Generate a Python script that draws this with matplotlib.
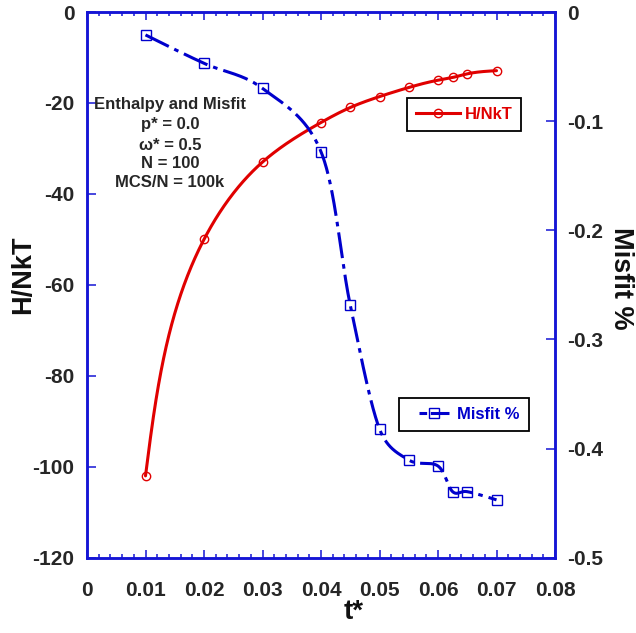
import numpy as np
import matplotlib
matplotlib.use("Agg")
import matplotlib.pyplot as plt
from matplotlib.lines import Line2D
from matplotlib.ticker import MultipleLocator, FixedLocator

# ---- data ----
t_star = [0.01, 0.02, 0.03, 0.04, 0.045, 0.05, 0.055, 0.06, 0.0625, 0.065, 0.07]
enthalpy = [-102.0, -50.0, -33.0, -24.3, -21.0, -18.6, -16.6, -15.0, -14.4, -13.6, -12.9]
misfit = [-0.021, -0.047, -0.070, -0.128, -0.2685, -0.382, -0.4105, -0.416, -0.4395, -0.4395, -0.447]

left_ticks = [0, -20, -40, -60, -80, -100, -120]
right_ticks = [0, -0.1, -0.2, -0.3, -0.4, -0.5]
x_ticks = [0, 0.01, 0.02, 0.03, 0.04, 0.05, 0.06, 0.07, 0.08]
x_tick_labels = ["0", "0.01", "0.02", "0.03", "0.04", "0.05", "0.06", "0.07", "0.08"]
info_lines = ["Enthalpy and Misfit", "p* = 0.0", "\u03c9* = 0.5", "N = 100", "MCS/N = 100k"]

RED = "#E00000"
BLUE = "#0000CC"
AXIS_BLUE = "#1515D5"
TXT = "#262626"

plt.rcParams["font.family"] = ["Liberation Sans", "DejaVu Sans"]
plt.rcParams["font.weight"] = "bold"
plt.rcParams["axes.labelweight"] = "bold"


def _natural_1d(t, y, tt):
    n = len(t)
    h = np.diff(t)
    A = np.zeros((n, n))
    b = np.zeros(n)
    A[0, 0] = A[-1, -1] = 1.0
    for i in range(1, n - 1):
        A[i, i - 1] = h[i - 1]
        A[i, i] = 2 * (h[i - 1] + h[i])
        A[i, i + 1] = h[i]
        b[i] = 6 * ((y[i + 1] - y[i]) / h[i] - (y[i] - y[i - 1]) / h[i - 1])
    M = np.linalg.solve(A, b)
    idx = np.clip(np.searchsorted(t, tt, side="right") - 1, 0, n - 2)
    t0, t1 = t[idx], t[idx + 1]
    hh = t1 - t0
    return (M[idx] * (t1 - tt) ** 3 / (6 * hh) + M[idx + 1] * (tt - t0) ** 3 / (6 * hh)
            + (y[idx] / hh - M[idx] * hh / 6) * (t1 - tt)
            + (y[idx + 1] / hh - M[idx + 1] * hh / 6) * (tt - t0))


def spline_curve(axis, xs, ys, n=600):
    """Parametric natural cubic spline through the points (screen space)."""
    P = axis.transData.transform(np.column_stack([xs, ys]))
    t = np.concatenate([[0], np.cumsum(np.hypot(*np.diff(P, axis=0).T))])
    tt = np.linspace(0, t[-1], n)
    c = np.column_stack([_natural_1d(t, P[:, 0], tt), _natural_1d(t, P[:, 1], tt)])
    c = axis.transData.inverted().transform(c)
    return c[:, 0], c[:, 1]


def bezier_curve(axis, xs, ys, n_per_seg=60):
    """Bezier segments with Catmull-Rom tangents, control arms capped at half
    the segment length (screen space)."""
    P = axis.transData.transform(np.column_stack([xs, ys]))
    n = len(P)
    m = np.zeros_like(P)
    for i in range(1, n - 1):
        m[i] = (P[i + 1] - P[i - 1]) / 2
    m[0] = 1.5 * (P[1] - P[0]) - 0.5 * m[1]
    m[-1] = 1.5 * (P[-1] - P[-2]) - 0.5 * m[-2]
    s = np.linspace(0, 1, n_per_seg)[:, None]
    parts = []
    for i in range(n - 1):
        L = np.hypot(*(P[i + 1] - P[i]))
        a = m[i] / 3
        b = m[i + 1] / 3
        for v in (a, b):
            ln = np.hypot(*v)
            if ln > L / 2:
                v *= (L / 2) / ln
        c1 = P[i] + a
        c2 = P[i + 1] - b
        seg = ((1 - s) ** 3 * P[i] + 3 * (1 - s) ** 2 * s * c1
               + 3 * (1 - s) * s ** 2 * c2 + s ** 3 * P[i + 1])
        parts.append(seg if i == 0 else seg[1:])
    c = axis.transData.inverted().transform(np.vstack(parts))
    return c[:, 0], c[:, 1]


fig = plt.figure(figsize=(6.36, 6.33), dpi=100)
ax = fig.add_axes([87 / 636, (633 - 557.7) / 633, 468 / 636, 545.7 / 633])
ax2 = ax.twinx()

ax.set_xlim(0, 0.08)
ax.set_ylim(-120, 0)
ax2.set_ylim(-0.5, 0)

# enthalpy curve (left axis)
sx, sy = spline_curve(ax, t_star, enthalpy)
ax.plot(sx, sy, color=RED, lw=2.2, solid_capstyle="round", zorder=3)
ax.plot(t_star, enthalpy, ls="none", marker="o", ms=6, mfc="none", mec=RED, mew=1.0, zorder=4)

# misfit curve (right axis)
dash = (0, (8.5, 2.0, 1.5, 2.0))
mx, my = bezier_curve(ax2, t_star, misfit)
ax2.plot(mx, my, color=BLUE, lw=2.2, ls=dash, zorder=3)
ax2.plot(t_star, misfit, ls="none", marker="s", ms=7, mfc="none", mec=BLUE, mew=1.0, zorder=4)

ax.xaxis.set_major_locator(FixedLocator(x_ticks))
ax.set_xticklabels(x_tick_labels)
ax.xaxis.set_minor_locator(MultipleLocator(0.002))
ax.yaxis.set_major_locator(FixedLocator(left_ticks))
ax.set_yticklabels([f"{v:g}" for v in left_ticks])
ax2.yaxis.set_major_locator(FixedLocator(right_ticks))
ax2.set_yticklabels([f"{v:g}" for v in right_ticks])

for a in (ax, ax2):
    for s in a.spines.values():
        s.set_color(AXIS_BLUE)
        s.set_linewidth(1.8)

ax.tick_params(axis="x", which="major", direction="in", top=True, length=6, width=1.1,
               color=AXIS_BLUE, labelsize=15, labelcolor=TXT, pad=17)
ax.tick_params(axis="x", which="minor", direction="in", top=True, length=3, width=1.1,
               color=AXIS_BLUE)
ax.tick_params(axis="y", which="major", direction="in", length=6.5, width=1.1,
               color=AXIS_BLUE, labelsize=15, labelcolor=TXT, pad=9)
ax2.tick_params(axis="y", which="major", direction="in", length=6.5, width=1.1,
                color=AXIS_BLUE, labelsize=15, labelcolor=TXT, pad=9)

ax.set_xlabel("t*", fontsize=20, color="#111111")
ax.xaxis.set_label_coords((354 - 87) / 468, -(612 - 557.7) / 545.7)
ax.xaxis.label.set_va("center")
ax.set_ylabel("H/NkT", fontsize=19.5, color="#111111")
ax.yaxis.set_label_coords((23 - 87) / 468, 1 - (275 - 12) / 545.7)
ax.yaxis.label.set_va("center")
ax2.set_ylabel("Misfit %", fontsize=19.5, color="#111111", rotation=270)
ax2.yaxis.set_label_coords((621 - 87) / 468, 1 - (278 - 12) / 545.7)
ax2.yaxis.label.set_va("center")

# parameter block
y_px = [105, 125, 145, 164, 183]
for line, yp in zip(info_lines, y_px):
    ax.text((170 - 87) / 468, 1 - (yp - 12) / 545.7, line, transform=ax.transAxes,
            ha="center", va="center", fontsize=12, color=TXT, zorder=5)

# legends
h_red = Line2D([], [], color=RED, lw=2.2, marker="o", ms=6, mfc="none", mec=RED, mew=1.0)
leg1 = ax2.legend([h_red], ["H/NkT"], loc="upper left",
                  bbox_to_anchor=((407 - 87) / 468, 1 - (98 - 12) / 545.7),
                  borderaxespad=0, fancybox=False, frameon=True, edgecolor="black",
                  framealpha=1, handlelength=2.6, handletextpad=0.3, borderpad=0.55,
                  prop={"size": 12, "weight": "bold"}, labelcolor=[RED])
leg1.get_frame().set_linewidth(1.3)
ax2.add_artist(leg1)

h_blue = Line2D([], [], color=BLUE, lw=2.2, ls=(0, (2.5, 1.2, 10, 2)), marker="s", ms=7,
                mfc="none", mec=BLUE, mew=1.0)
leg2 = ax2.legend([h_blue], ["Misfit %"], loc="upper left",
                  bbox_to_anchor=((399 - 87) / 468, 1 - (398 - 12) / 545.7),
                  borderaxespad=0, fancybox=False, frameon=True, edgecolor="black",
                  framealpha=1, handlelength=2.55, handletextpad=0.4, borderpad=0.55,
                  prop={"size": 12, "weight": "bold"}, labelcolor=[BLUE])
leg2.get_frame().set_linewidth(1.3)
# sample line sits to the right of the handle slot
ln = leg2.get_lines()[0]
ln.set_xdata([8.0, 18.5, 29.5])

fig.savefig("out.png", dpi=100)
